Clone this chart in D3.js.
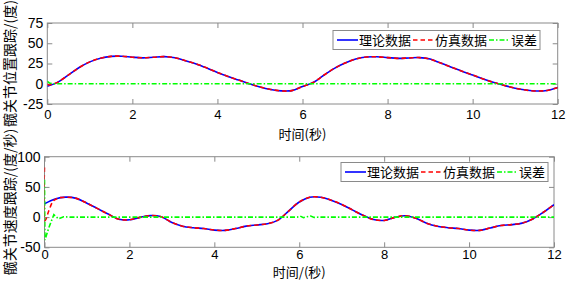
<!DOCTYPE html>
<html><head><meta charset="utf-8">
<script src="https://cdn.jsdelivr.net/npm/d3@7"></script>
<style>
body{margin:0;background:#fff;}
svg{display:block;}
text{fill:#000;}
</style></head>
<body><svg id="c" width="566" height="281"></svg>
<script>
// ---------- data ----------
const posTime = [0,0.25,0.5,0.75,1,1.25,1.5,1.75,2,2.25,2.5,2.75,3,3.25,3.5,3.75,4,4.25,4.5,4.75,5,5.25,5.5,5.75,6,6.25,6.5,6.75,7,7.25,7.5,7.75,8,8.25,8.5,8.75,9,9.25,9.5,9.75,10,10.25,10.5,10.75,11,11.25,11.5,11.75,12];
const posTheory = [-3,2,11,20,27,31.5,33.8,34,32.8,32,32.8,33.5,32,28.5,24.5,19.5,14,9,4.5,0,-4,-7,-8.8,-8.5,-3.5,1.5,10.5,19,25.5,30.5,33,33.3,32.3,31.3,31.8,32.3,30.5,25.5,20.5,15.5,10.8,6,1.5,-2.2,-5.5,-7.8,-9,-8.3,-4.7];
const posSimTime = [0,0.05,0.1,0.25,0.5,0.75,1,1.25,1.5,1.75,2,2.25,2.5,2.75,3,3.25,3.5,3.75,4,4.25,4.5,4.75,5,5.25,5.5,5.75,6,6.25,6.5,6.75,7,7.25,7.5,7.75,8,8.25,8.5,8.75,9,9.25,9.5,9.75,10,10.25,10.5,10.75,11,11.25,11.5,11.75,12];
const posSim = [-1,-1.5,-1,2,11,20,27,31.5,33.8,34,32.8,32,32.8,33.5,32,28.5,24.5,19.5,14,9,4.5,0,-4,-7,-8.8,-8.5,-3.5,1.5,10.5,19,25.5,30.5,33,33.3,32.3,31.3,31.8,32.3,30.5,25.5,20.5,15.5,10.8,6,1.5,-2.2,-5.5,-7.8,-9,-8.3,-4.7];
const posErrTime = [0,0.05,0.12,12];
const posErr = [3,1,0,0];

const velTime = posTime;
const velTheory = [22,30,33,31,23,14,5,-3.5,-4.5,-0.5,2.5,0.5,-9,-15,-17.5,-19,-21.5,-22,-19,-15,-13,-11,-5,10,25,33,33,28,21,12,3,-4,-5.5,-0.5,2.3,-2,-10,-15,-17.5,-19,-21.5,-22,-18,-14,-12.5,-10,-3,8,20.5];
const velSimTime = [0,0.01,0.1,0.2,0.3,0.5,0.75,1,1.25,1.5,1.75,2,2.25,2.5,2.75,3,3.25,3.5,3.75,4,4.25,4.5,4.75,5,5.25,5.5,5.75,6,6.25,6.5,6.75,7,7.25,7.5,7.75,8,8.25,8.5,8.75,9,9.25,9.5,9.75,10,10.25,10.5,10.75,11,11.25,11.5,11.75,12];
const velSim = [82,-6,10,26,31,33,31,23,14,5,-3.5,-4.5,-0.5,2.5,0.5,-9,-15,-17.5,-19,-21.5,-22,-19,-15,-13,-11,-5,10,25,33,33,28,21,12,3,-4,-5.5,-0.5,2.3,-2,-10,-15,-17.5,-19,-21.5,-22,-18,-14,-12.5,-10,-3,8,20.5];
const velErrTime = [0,0.01,0.1,0.22,0.33,0.45,0.6,5.95,6.02,6.1,6.18,6.27,6.35,6.45,12];
const velErr = [62,-38,-18,4,-3,0.5,0,0,1.8,-1,0.5,1.8,-0.5,0,0];

const xTicks = [0,2,4,6,8,10,12];
const posYTicks = [-25,0,25,50,75];
const velYTicks = [-50,0,50,100];
const legendNames = ["理论数据","仿真数据","误差"];
const xLabels = ["时间(秒)","时间/(秒)"];
const yLabels = ["髋关节位置跟踪/(度)","髋关节速度跟踪/(度/秒)"];

// ---------- drawing ----------
const svg = d3.select("#c");
svg.append("rect").attr("width",566).attr("height",281).attr("fill","#fff");
const AX = "#8a8a8a";
const NUMFONT = "'Liberation Sans', Arial, sans-serif";
const CJK = "'Noto Sans CJK SC', sans-serif";
const styles = [
  {color:"#0000ff", dash:null},
  {color:"#ff0000", dash:"4.5,3"},
  {color:"#00ff00", dash:"5,2,1.5,2"}
];

function panel(o){
  const x = d3.scaleLinear().domain([0,12]).range([o.left,o.right]);
  const y = d3.scaleLinear().domain(o.yDomain).range([o.bottom,o.top]);
  const g = svg.append("g");
  const id = "clip"+o.idx;
  svg.append("clipPath").attr("id",id).append("rect")
    .attr("x",o.left).attr("y",o.top).attr("width",o.right-o.left).attr("height",o.bottom-o.top);

  const fmt = d => d;
  const gb = g.append("g").attr("transform",`translate(0,${o.bottom})`)
    .call(d3.axisBottom(x).tickValues(xTicks).tickSize(-5).tickPadding(o.xPad).tickFormat(fmt));
  const gt = g.append("g").attr("transform",`translate(0,${o.top})`)
    .call(d3.axisTop(x).tickValues(xTicks).tickSize(-5).tickFormat(""));
  const gl = g.append("g").attr("transform",`translate(${o.left},0)`)
    .call(d3.axisLeft(y).tickValues(o.yTicks).tickSize(-5).tickPadding(4).tickFormat(fmt));
  const gr = g.append("g").attr("transform",`translate(${o.right},0)`)
    .call(d3.axisRight(y).tickValues(o.yTicks).tickSize(-5).tickFormat(""));
  [gb,gt,gl,gr].forEach(a=>{
    a.select(".domain").remove();
    a.selectAll("line").attr("stroke",AX);
    a.selectAll("text").attr("font-family",NUMFONT).attr("font-size",14).attr("fill","#000");
  });
  gb.selectAll("text").attr("font-size",13);
  g.append("rect").attr("x",o.left).attr("y",o.top).attr("width",o.right-o.left).attr("height",o.bottom-o.top)
    .attr("fill","none").attr("stroke",AX).attr("stroke-width",1);

  const line = d3.line().x(d=>x(d[0])).y(d=>y(d[1])).curve(d3.curveCatmullRom.alpha(0.5));
  const lineLin = d3.line().x(d=>x(d[0])).y(d=>y(d[1]));
  const lg = g.append("g").attr("clip-path",`url(#${id})`);
  const series = [
    {t:o.theoryT, v:o.theory, s:styles[0], gen:line},
    {t:o.simT, v:o.sim, s:styles[1], gen:line},
    {t:o.errT, v:o.err, s:styles[2], gen:lineLin}
  ];
  series.forEach(se=>{
    lg.append("path").datum(se.t.map((t,i)=>[t,se.v[i]]))
      .attr("d",se.gen).attr("fill","none").attr("stroke",se.s.color)
      .attr("stroke-width",1.6).attr("stroke-dasharray",se.s.dash);
  });

  g.append("text").attr("x",(o.left+o.right)/2).attr("y",o.xLabelY).attr("text-anchor","middle")
    .attr("font-family",CJK).attr("font-size",13).text(o.xLabel);
  g.append("text").attr("transform",`translate(15,${(o.top+o.bottom)/2}) rotate(-90)`)
    .attr("text-anchor","middle").attr("font-family",CJK).attr("font-size",14).text(o.yLabel);

  const L = g.append("g").attr("transform",`translate(${o.legX},${o.legY})`);
  const items = [];
  let cx = 4;
  legendNames.forEach((n,i)=>{
    items.push({x:cx, n, s:styles[i]});
    cx += 21 + 1 + (n.length*13) + 2;
  });
  const W = cx + 1, H = 19;
  L.append("rect").attr("width",W).attr("height",H).attr("fill","#fff").attr("stroke",AX);
  items.forEach(it=>{
    L.append("line").attr("x1",it.x).attr("x2",it.x+21).attr("y1",H/2).attr("y2",H/2)
      .attr("stroke",it.s.color).attr("stroke-width",1.6).attr("stroke-dasharray",it.s.dash);
    L.append("text").attr("x",it.x+22).attr("y",H/2+4.8).attr("font-family",CJK).attr("font-size",13).text(it.n);
  });
}

panel({idx:0,left:47.3,right:557.7,top:23,bottom:104,yDomain:[-25,75],yTicks:posYTicks,
  theoryT:posTime,theory:posTheory,simT:posSimTime,sim:posSim,errT:posErrTime,err:posErr,
  xLabel:xLabels[0],yLabel:yLabels[0],xLabelY:139,xPad:6,legX:333,legY:30.5});
panel({idx:1,left:44.5,right:554,top:156.7,bottom:247.3,yDomain:[-50,100],yTicks:velYTicks,
  theoryT:velTime,theory:velTheory,simT:velSimTime,sim:velSim,errT:velErrTime,err:velErr,
  xLabel:xLabels[1],yLabel:yLabels[1],xLabelY:277.2,xPad:2.6,legX:341,legY:162.5});
</script></body></html>
